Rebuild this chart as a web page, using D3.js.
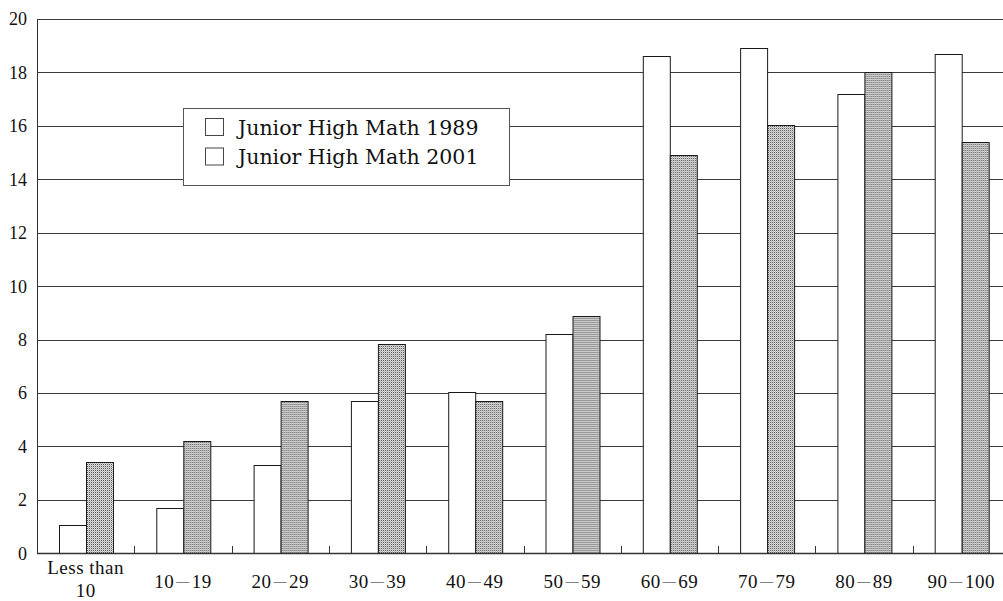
<!DOCTYPE html>
<html>
<head>
<meta charset="utf-8">
<script src="https://cdn.jsdelivr.net/npm/d3@7"></script>
<style>
  body { margin: 0; background: #fff; }
  svg { display: block; }
  .tick-label { font-family: "Liberation Serif", serif; fill: #111; }
  .legend-label { font-family: "DejaVu Serif", serif; fill: #111; }
</style>
</head>
<body>
<div id="chart"></div>
<script>
// chart data
const categories = ['Less than 10', '10－19', '20－29', '30－39', '40－49', '50－59', '60－69', '70－79', '80－89', '90－100'];
const seriesNames = ['Junior High Math 1989', 'Junior High Math 2001'];
const math1989 = [1.05, 1.7, 3.3, 5.7, 6.05, 8.2, 18.6, 18.9, 17.2, 18.7];
const math2001 = [3.4, 4.2, 5.7, 7.85, 5.7, 8.9, 14.9, 16.05, 18.0, 15.4];
const yTicks = [0, 2, 4, 6, 8, 10, 12, 14, 16, 18, 20];

const width = 1003;
const height = 601;
const margin = {top: 19, right: -7, bottom: 48, left: 37};

let svg = d3.select('#chart')
    .append('svg')
    .attr('width', width)
    .attr('height', height);

let defs = svg.append('defs');
let pat = defs.append('pattern')
    .attr('id', 'dots')
    .attr('patternUnits', 'userSpaceOnUse')
    .attr('width', 2)
    .attr('height', 2);
pat.append('rect').attr('width', 2).attr('height', 2).attr('fill', '#e2e2e2');
pat.append('rect').attr('x', 0).attr('y', 0).attr('width', 1).attr('height', 1).attr('fill', '#505050');
pat.append('rect').attr('x', 1).attr('y', 1).attr('width', 1).attr('height', 1).attr('fill', '#b4b4b4');

let x = d3.scaleBand()
    .domain(categories)
    .range([margin.left, width - margin.right])
    .padding(0);

let xInner = d3.scaleBand()
    .domain(seriesNames)
    .range([22, x.bandwidth() - 21.5]);

let y = d3.scaleLinear()
    .domain([0, 20])
    .range([height - margin.bottom + 0.3, margin.top]);

// gridlines
svg.append('g')
    .selectAll('line')
    .data(yTicks.filter(d => d > 0))
    .enter().append('line')
    .attr('x1', margin.left)
    .attr('x2', width)
    .attr('y1', d => Math.round(y(d)) + 0.5)
    .attr('y2', d => Math.round(y(d)) + 0.5)
    .attr('stroke', '#3a3a3a')
    .attr('stroke-width', 1);

// y tick labels
svg.append('g')
    .selectAll('text')
    .data(yTicks)
    .enter().append('text')
    .attr('class', 'tick-label')
    .attr('x', 27)
    .attr('y', d => y(d))
    .attr('dy', '0.36em')
    .style('text-anchor', 'end')
    .style('font-size', '18px')
    .text(d => d);

// bars
let rows = categories.map((c, i) => ({cat: c, vals: [math1989[i], math2001[i]]}));
let groups = svg.append('g')
    .selectAll('g')
    .data(rows)
    .enter().append('g')
    .attr('transform', d => `translate(${x(d.cat)}, 0)`);

groups.selectAll('rect')
    .data(d => d.vals.map((v, j) => ({name: seriesNames[j], v: v, j: j})))
    .enter().append('rect')
    .attr('x', d => Math.round(xInner(d.name)) + 0.5)
    .attr('y', d => Math.round(y(d.v)) + 0.5)
    .attr('width', Math.round(xInner.bandwidth()))
    .attr('height', d => Math.round(y(0)) - Math.round(y(d.v)))
    .attr('fill', d => d.j === 0 ? '#fff' : 'url(#dots)')
    .attr('stroke', '#1a1a1a')
    .attr('stroke-width', 1);

// axes lines
svg.append('line')
    .attr('x1', margin.left + 0.5).attr('x2', margin.left + 0.5)
    .attr('y1', margin.top).attr('y2', y(0))
    .attr('stroke', '#333').attr('stroke-width', 1);

svg.append('line')
    .attr('x1', margin.left).attr('x2', width)
    .attr('y1', Math.round(y(0)) + 0.5).attr('y2', Math.round(y(0)) + 0.5)
    .attr('stroke', '#333').attr('stroke-width', 1.6);

// small boundary ticks
svg.append('g')
    .selectAll('line')
    .data(categories.slice(1))
    .enter().append('line')
    .attr('x1', d => Math.round(x(d)) + 0.5)
    .attr('x2', d => Math.round(x(d)) + 0.5)
    .attr('y1', Math.round(y(0)))
    .attr('y2', Math.round(y(0)) - 7)
    .attr('stroke', '#333');

// x labels
let xl = svg.append('g')
    .selectAll('text')
    .data(categories)
    .enter().append('text')
    .attr('class', 'tick-label')
    .attr('x', d => x(d) + x.bandwidth() / 2)
    .attr('y', 588)
    .style('text-anchor', 'middle')
    .style('font-size', '19px')
    .style('letter-spacing', '0.5px');

xl.each(function(d) {
    let t = d3.select(this);
    let cx = x(d) + x.bandwidth() / 2;
    if (d.startsWith('Less')) {
        t.append('tspan').attr('x', cx).attr('y', 574).text('Less than');
        t.append('tspan').attr('x', cx).attr('y', 597).text('10');
    } else {
        let parts = d.split('－');
        t.append('tspan').text(parts[0]);
        t.append('tspan').attr('dx', 2).style('font-size', '13px').attr('dy', -3.5).text('—');
        t.append('tspan').attr('dx', 2).attr('dy', 3.5).text(parts[1]);
    }
});

// legend
let legend = svg.append('g');
legend.append('rect')
    .attr('x', 183.5).attr('y', 108.5)
    .attr('width', 326).attr('height', 77)
    .attr('fill', '#fff')
    .attr('stroke', '#555');

seriesNames.forEach((name, i) => {
    legend.append('rect')
        .attr('x', 205.5).attr('y', 118.5 + i * 29.5)
        .attr('width', 18).attr('height', 17)
        .attr('fill', '#fff')
        .attr('stroke', '#444');
    legend.append('text')
        .attr('class', 'legend-label')
        .attr('x', 238)
        .attr('y', 135 + i * 29)
        .style('font-size', '20.5px')
        .text(name);
});
</script>
</body>
</html>
